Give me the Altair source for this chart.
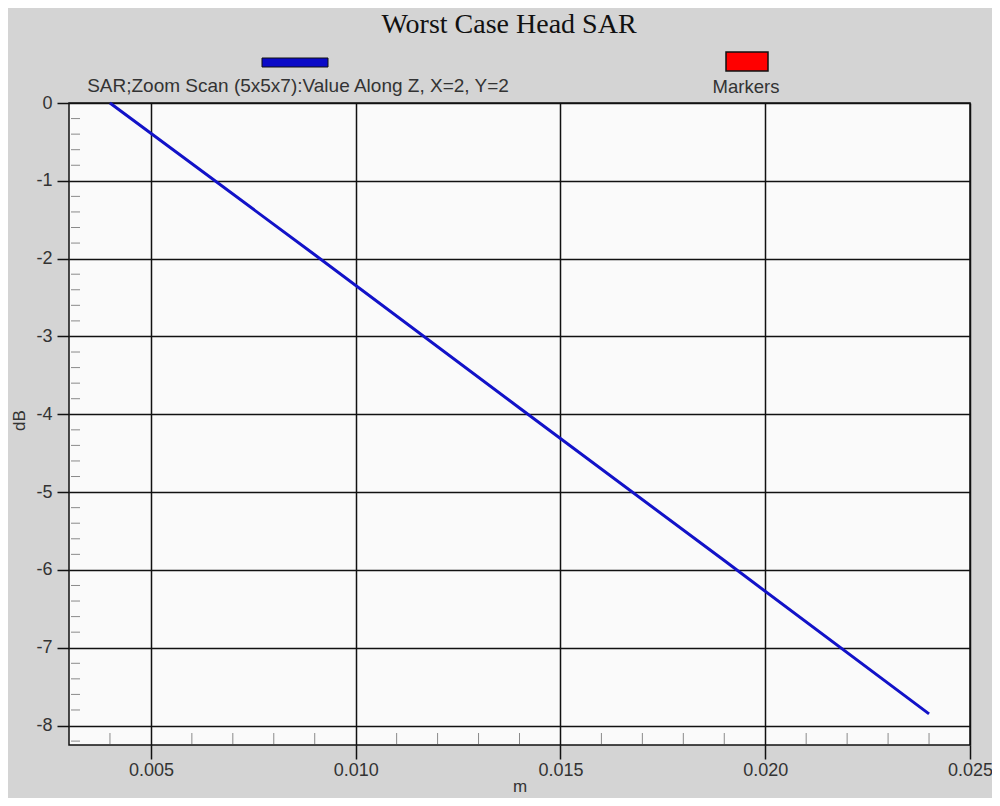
import altair as alt
import pandas as pd

# Data
z_m = [0.004, 0.009, 0.014, 0.019, 0.024]
sar_db = [0.0, -1.95, -3.92, -5.88, -7.85]

x_ticks = [0.005, 0.010, 0.015, 0.020, 0.025]
y_ticks = [-8, -7, -6, -5, -4, -3, -2, -1, 0]
x_minor = [0.004, 0.006, 0.007, 0.008, 0.009, 0.011, 0.012, 0.013, 0.014,
           0.016, 0.017, 0.018, 0.019, 0.021, 0.022, 0.023, 0.024]
y_minor = [-8.2, -7.8, -7.6, -7.4, -7.2, -6.8, -6.6, -6.4, -6.2,
           -5.8, -5.6, -5.4, -5.2, -4.8, -4.6, -4.4, -4.2,
           -3.8, -3.6, -3.4, -3.2, -2.8, -2.6, -2.4, -2.2,
           -1.8, -1.6, -1.4, -1.2, -0.8, -0.6, -0.4, -0.2]

title_text = "Worst Case Head SAR"
series_label = "SAR;Zoom Scan (5x5x7):Value Along Z, X=2, Y=2"
markers_label = "Markers"

W, H = 901, 642
FONT = "Liberation Sans"

df = pd.DataFrame({"z": z_m, "db": sar_db})

xscale = alt.Scale(domain=[0.003, 0.025], nice=False, zero=False)
yscale = alt.Scale(domain=[-8.25, 0], nice=False, zero=False)

line = alt.Chart(df).mark_line(color="#1212c8", strokeWidth=3).encode(
    x=alt.X("z:Q", scale=xscale,
            axis=alt.Axis(values=x_ticks, format=".3f", title="m",
                          grid=True, gridColor="#111", gridWidth=1.5,
                          tickSize=14, tickColor="#111", tickWidth=1.5,
                          labelPadding=2, labelFlush=False, labelOverlap=False,
                          labelFontSize=18, labelFont=FONT, labelColor="#333",
                          titleFont=FONT, titleFontSize=17, titleFontWeight="normal",
                          titleColor="#333", titleY=46, titleBaseline="alphabetic",
                          domain=False)),
    y=alt.Y("db:Q", scale=yscale,
            axis=alt.Axis(values=y_ticks, title="dB",
                          labelExpr="'' + datum.value",
                          grid=True, gridColor="#111", gridWidth=1.5,
                          tickSize=12, tickColor="#111", tickWidth=1.5,
                          labelPadding=5, labelOverlap=False,
                          labelFontSize=18, labelFont=FONT, labelColor="#333",
                          titleFont=FONT, titleFontSize=17, titleFontWeight="normal",
                          titleColor="#333", titleX=-50, titleY=H / 2 - 4,
                          titleAngle=270, titleAlign="center", titleBaseline="middle",
                          domain=False)),
)

ymin_df = pd.DataFrame({"y": y_minor})
ymin = alt.Chart(ymin_df).mark_rule(color="#8a8a8a", strokeWidth=1).encode(
    y=alt.Y("y:Q", scale=yscale),
    x=alt.value(2), x2=alt.value(11),
)

xmin_df = pd.DataFrame({"x": x_minor})
xmin = alt.Chart(xmin_df).mark_rule(color="#8a8a8a", strokeWidth=1).encode(
    x=alt.X("x:Q", scale=xscale),
    y=alt.value(H - 1), y2=alt.value(H - 12),
)

one = pd.DataFrame({"a": [0]})

title = alt.Chart(one).mark_text(font="Liberation Serif", fontSize=28, color="#111",
                                 align="center", baseline="alphabetic").encode(
    x=alt.value(440), y=alt.value(-70), text=alt.value(title_text))

blue_box = alt.Chart(one).mark_rect(color="#0a0ac8", stroke="#111", strokeWidth=1).encode(
    x=alt.value(193), x2=alt.value(259), y=alt.value(-45), y2=alt.value(-36))
red_box = alt.Chart(one).mark_rect(color="#ff0000", stroke="#111", strokeWidth=1.5).encode(
    x=alt.value(657), x2=alt.value(699), y=alt.value(-51), y2=alt.value(-32))

lab1 = alt.Chart(one).mark_text(font=FONT, fontSize=19, color="#333",
                                align="center", baseline="alphabetic").encode(
    x=alt.value(229), y=alt.value(-11), text=alt.value(series_label))
lab2 = alt.Chart(one).mark_text(font=FONT, fontSize=18.5, color="#333",
                                align="center", baseline="alphabetic").encode(
    x=alt.value(677), y=alt.value(-10), text=alt.value(markers_label))

chart = alt.layer(ymin, xmin, line, title, blue_box, red_box, lab1, lab2).properties(
    width=W, height=H,
    autosize=alt.AutoSizeParams(type="none"),
    padding={"left": 61, "top": 95, "right": 22, "bottom": 53},
    background="#d4d4d4",
).configure_view(fill="#fafafa", stroke="#111", strokeWidth=1.5)

chart.save("out.html", embed_options={"renderer": "svg", "actions": False})
